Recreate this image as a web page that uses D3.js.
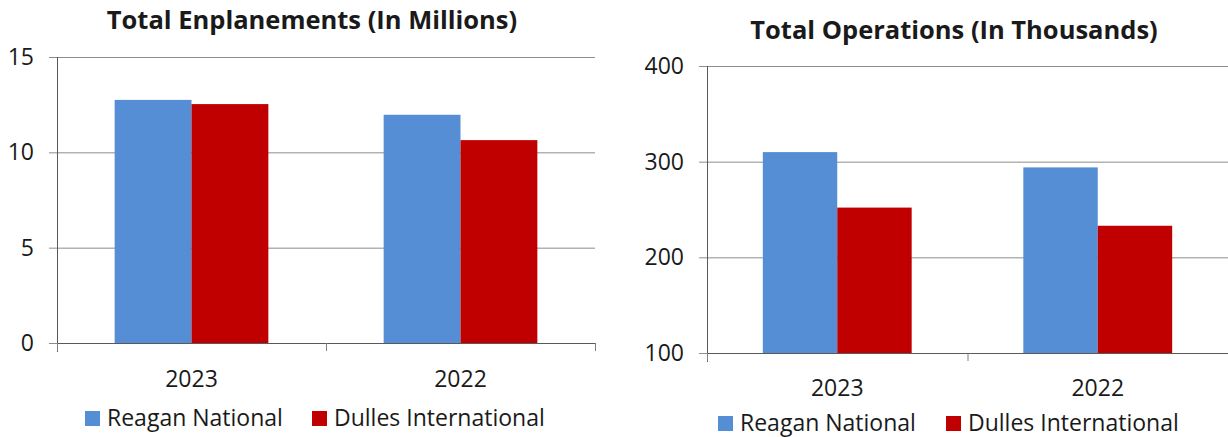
<!doctype html>
<html lang="en">
<head>
  <meta charset="utf-8">
  <script src="https://d3js.org/d3.v7.min.js"></script>
  <style>
    body { margin: 0; background: #fff; }
    text { font-family: "Open Sans", "Noto Sans", sans-serif; fill: #1a1a1a; }
  </style>
</head>
<body>
  <script>
    var width = 1228,
        height = 437;

    // data
    var categories = ["2023", "2022"];
    var seriesNames = ["Reagan National", "Dulles International"];
    var seriesColors = ["#558ed5", "#c00000"];

    var enplanementsReagan = [12.75, 11.97];
    var enplanementsDulles = [12.53, 10.64];
    var enplanementTicks = [0, 5, 10, 15];

    var operationsReagan = [310, 294];
    var operationsDulles = [252, 233];
    var operationTicks = [100, 200, 300, 400];

    var labelSize = "23px";

    var svg = d3.select("body").append("svg")
        .attr("width", width)
        .attr("height", height);

    function drawChart(opt) {
      var g = svg.append("g");
      var plotW = opt.x1 - opt.x0;

      var y = d3.scaleLinear().domain(opt.domain).range([opt.yBot, opt.yTop]);
      var x = d3.scaleBand().domain(categories).range([opt.x0, opt.x1]);
      var xs = d3.scaleBand().domain(seriesNames).range([0, x.bandwidth()])
          .paddingInner(0).paddingOuter(0.75);

      // gridlines
      g.append("g")
          .attr("transform", "translate(" + opt.x0 + ",0)")
          .call(d3.axisLeft(y).tickValues(opt.ticks).tickSize(-plotW).tickFormat(""))
          .call(function(s) {
            s.select(".domain").remove();
            s.selectAll("line").attr("stroke", "#8c8c8c");
          });

      // bars
      var rows = categories.map(function(c, i) {
        return [{ cat: c, name: seriesNames[0], v: opt.a[i] },
                { cat: c, name: seriesNames[1], v: opt.b[i] }];
      });
      g.selectAll(".grp")
          .data(rows)
        .enter().append("g")
          .attr("transform", function(d) { return "translate(" + x(d[0].cat) + ",0)"; })
        .selectAll("rect")
          .data(function(d) { return d; })
        .enter().append("rect")
          .attr("x", function(d) { return xs(d.name); })
          .attr("width", xs.bandwidth())
          .attr("y", function(d) { return y(d.v); })
          .attr("height", function(d) { return y(opt.domain[0]) - y(d.v); })
          .style("fill", function(d, i) { return seriesColors[i]; });

      // y axis with ticks and labels
      g.append("g")
          .attr("transform", "translate(" + opt.x0 + ",0)")
          .call(d3.axisLeft(y).tickValues(opt.ticks).tickSize(8).tickPadding(15))
          .call(function(s) {
            s.select(".domain").attr("stroke", "#595959")
                .attr("d", "M0.5," + opt.yTop + "V" + (opt.yBot + 9));
            s.selectAll("line").attr("stroke", "#8c8c8c");
            s.selectAll("text").style("font-size", labelSize)
                .style("font-family", "'Open Sans', sans-serif").attr("fill", "#1a1a1a");
          });

      // x axis line with ticks on band boundaries
      var xb = d3.scaleLinear().domain([0, categories.length]).range([opt.x0, opt.x1]);
      g.append("g")
          .attr("transform", "translate(0," + opt.yBot + ")")
          .call(d3.axisBottom(xb).tickValues(d3.range(categories.length + 1)).tickSize(8).tickFormat(""))
          .call(function(s) {
            s.select(".domain").attr("stroke", "#595959").attr("d", "M" + opt.x0 + ",0.5H" + opt.x1);
            s.selectAll("line").attr("stroke", "#7f7f7f");
          });

      // category labels
      g.append("g")
          .attr("transform", "translate(0," + opt.yBot + ")")
          .call(d3.axisBottom(x).tickSize(0).tickPadding(opt.catPad))
          .call(function(s) {
            s.select(".domain").remove();
            s.selectAll("text").style("font-size", labelSize)
                .style("font-family", "'Open Sans', sans-serif").attr("fill", "#1a1a1a");
          });

      // title
      g.append("text")
          .attr("x", opt.titleX)
          .attr("y", opt.titleY)
          .attr("text-anchor", "middle")
          .style("font-size", "25.5px")
          .style("font-weight", "bold")
          .text(opt.title);

      // legend
      var leg = g.selectAll(".leg")
          .data(seriesNames)
        .enter().append("g")
          .attr("transform", function(d, i) { return "translate(" + opt.legX[i] + "," + opt.legY + ")"; });
      leg.append("rect")
          .attr("x", 0).attr("y", -15)
          .attr("width", 15).attr("height", 15)
          .style("fill", function(d, i) { return seriesColors[i]; });
      leg.append("text")
          .attr("x", 22).attr("y", 0)
          .style("font-size", labelSize)
          .text(function(d) { return d; });
    }

    drawChart({
      title: "Total Enplanements (In Millions)", titleX: 312, titleY: 29,
      x0: 57, x1: 595, yTop: 57, yBot: 343, catPad: 28,
      domain: [0, 15], ticks: enplanementTicks,
      a: enplanementsReagan, b: enplanementsDulles,
      legX: [85, 312], legY: 426
    });

    drawChart({
      title: "Total Operations (In Thousands)", titleX: 954, titleY: 39,
      x0: 707, x1: 1228, yTop: 66, yBot: 353, catPad: 27,
      domain: [100, 400], ticks: operationTicks,
      a: operationsReagan, b: operationsDulles,
      legX: [718, 946], legY: 431
    });
  </script>
</body>
</html>
